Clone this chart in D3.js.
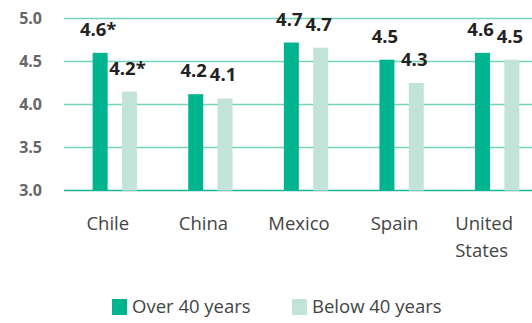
<!DOCTYPE html>
<html>
<head>
<meta charset="utf-8">
<script src="https://cdn.jsdelivr.net/npm/d3@7"></script>
<style>
  body { margin: 0; background: #fff; }
  svg { display: block; }
</style>
</head>
<body>
<div id="container"></div>
<script>
// values
const countries = ["Chile", "China", "Mexico", "Spain", "United States"];
const series = ["Over 40 years", "Below 40 years"];
const over40 = [4.6, 4.12, 4.72, 4.52, 4.6];
const below40 = [4.15, 4.07, 4.66, 4.25, 4.52];
const over40Labels = ["4.6*", "4.2", "4.7", "4.5", "4.6"];
const below40Labels = ["4.2*", "4.1", "4.7", "4.3", "4.5"];
const yTicks = [3.0, 3.5, 4.0, 4.5, 5.0];

const colors = { "Over 40 years": "#00b48f", "Below 40 years": "#c2e4d8" };

const width = 532, height = 323;

const svg = d3.select("#container").append("svg")
    .attr("width", width)
    .attr("height", height)
    .style("font-family", "'Open Sans', Lato, sans-serif");

const y = d3.scaleLinear().domain([3, 5]).range([190.6, 18.4]);
const x = d3.scaleBand().domain(countries).range([67, 545]);
const x1 = d3.scaleBand().domain(series).range([-22, 22]).paddingInner(0.5);

// gridlines
svg.append("g").selectAll("line").data(yTicks).join("line")
    .attr("x1", 64).attr("x2", width)
    .attr("y1", d => y(d)).attr("y2", d => y(d))
    .attr("stroke", d => d === 3 ? "#1db593" : "#72d4bd")
    .attr("stroke-width", 1.5);

// y labels
svg.append("g").selectAll("text").data(yTicks).join("text")
    .attr("x", 42).attr("y", d => y(d))
    .attr("dy", "0.36em")
    .attr("text-anchor", "end")
    .attr("fill", "#666")
    .attr("font-size", 16)
    .attr("font-weight", 700)
    .text(d => d.toFixed(1));

const rows = countries.map((c, i) => [
  { country: c, key: series[0], value: over40[i], label: over40Labels[i] },
  { country: c, key: series[1], value: below40[i], label: below40Labels[i] }
]).flat();

const bw = 15;
const cx = d => x(d.country) + x.bandwidth() / 2 + x1(d.key) + x1.bandwidth() / 2;

svg.append("g").selectAll("rect").data(rows).join("rect")
    .attr("x", d => cx(d) - bw / 2)
    .attr("width", bw)
    .attr("y", d => y(d.value))
    .attr("height", d => y(3) - y(d.value))
    .attr("fill", d => colors[d.key]);

svg.append("g").selectAll("text").data(rows).join("text")
    .attr("x", d => cx(d) - 2)
    .attr("y", d => y(d.value) - 17)
    .attr("text-anchor", "middle")
    .attr("fill", "#222")
    .attr("font-size", 18.5)
    .attr("font-weight", 700)
    .text(d => d.label);

// country labels
const xl = svg.append("g").selectAll("text").data(countries).join("text")
    .attr("x", d => x(d) + x.bandwidth() / 2 - 7)
    .attr("y", 230)
    .attr("text-anchor", "middle")
    .attr("fill", "#444")
    .attr("font-size", 18.5);
xl.each(function(d) {
  const words = d.split(" ");
  const t = d3.select(this);
  if (words.length > 1) {
    t.attr("text-anchor", "start").attr("x", x(d) + x.bandwidth() / 2 - 42);
    words.forEach((w, i) => t.append("tspan")
        .attr("x", x(d) + x.bandwidth() / 2 - 42)
        .attr("dy", i ? 27 : 0)
        .text(w));
  } else {
    t.text(d);
  }
});

// legend
const legendX = [112, 292];
const lg = svg.append("g").selectAll("g").data(series).join("g")
    .attr("transform", (d, i) => `translate(${legendX[i]},299)`);
lg.append("rect").attr("width", 15).attr("height", 16)
    .attr("fill", d => colors[d]);
lg.append("text").attr("x", 20).attr("y", 14)
    .attr("fill", "#444").attr("font-size", 18.5)
    .text(d => d);
</script>
</body>
</html>
